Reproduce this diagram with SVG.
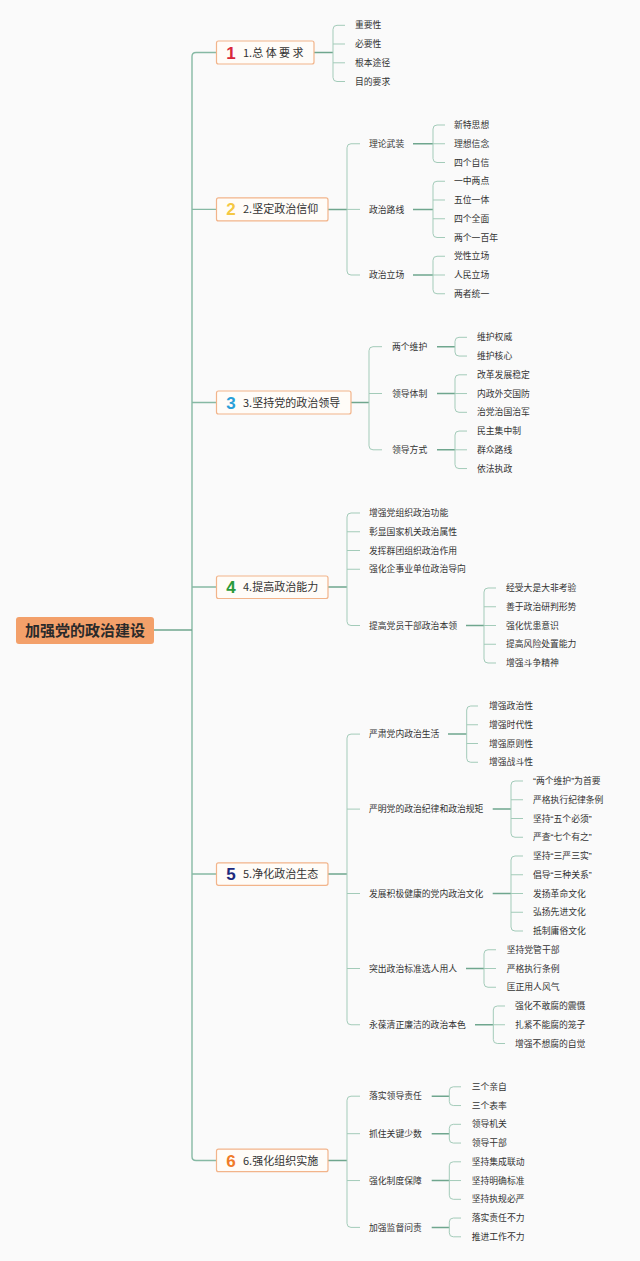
<svg xmlns="http://www.w3.org/2000/svg" width="640" height="1261" viewBox="0 0 640 1261">
<style>
text{font-family:"Noto Sans CJK SC","Noto Sans",sans-serif;fill:#333}
.t{font-size:8.8px}
.b{font-size:11px}
.n{font-size:17px;font-weight:bold;font-family:"Liberation Sans","Noto Sans",sans-serif;text-anchor:middle}
.r{font-size:15px;font-weight:bold;fill:#2a2a2a}
.q{font-family:"Liberation Sans",sans-serif}
.box{fill:#fffcf8;stroke:#f2b48a;stroke-width:1.2}
.c{fill:none;stroke:#6fa68e;stroke-width:1.5}
.v{fill:none;stroke:#a3cbb9;stroke-width:1}
.k{fill:none;stroke:#86b9a4;stroke-width:1.4}
</style>
<rect width="640" height="1261" fill="#fafafa"/>
<g id="connectors">
<path class="k" d="M216,52.5 H196 Q192,52.5 192,56.5 V1156.5 Q192,1160.5 196,1160.5 H216 M192,209.4 H216 M192,402.5 H216 M192,587 H216 M192,874 H216"/>
<path class="c" d="M154,630 H192"/>
<path class="c" d="M314,52.5 H333 M328,209.4 H347 M351,402.5 H369 M328,587 H347 M328,874 H347 M328,1160.5 H347"/>
<path class="v" d="M345,25.3 H337 Q333,25.3 333,29.3 V77.5 Q333,81.5 337,81.5 H345 M333,44 H345 M333,62.8 H345"/>
<path class="v" d="M360,143.75 H351 Q347,143.75 347,147.75 V271 Q347,275 351,275 H360 M347,209.4 H360"/>
<path class="c" d="M413,143.75 H433 M413,209.4 H433 M413,275 H433"/>
<path class="v" d="M445,125 H437 Q433,125 433,129 V158.5 Q433,162.5 437,162.5 H445 M433,143.75 H445"/>
<path class="v" d="M445,181.25 H437 Q433,181.25 433,185.25 V233.5 Q433,237.5 437,237.5 H445 M433,200 H445 M433,218.75 H445"/>
<path class="v" d="M445,256.25 H437 Q433,256.25 433,260.25 V289.75 Q433,293.75 437,293.75 H445 M433,275 H445"/>
<path class="v" d="M382,346.7 H373 Q369,346.7 369,350.7 V445.8 Q369,449.8 373,449.8 H382 M369,393.5 H382"/>
<path class="c" d="M437,346.7 H455 M437,393.5 H455 M437,449.8 H455"/>
<path class="v" d="M467,337.3 H459 Q455,337.3 455,341.3 V352.05 Q455,356.05 459,356.05 H467"/>
<path class="v" d="M467,374.8 H459 Q455,374.8 455,378.8 V408.3 Q455,412.3 459,412.3 H467 M455,393.55 H467"/>
<path class="v" d="M467,431.05 H459 Q455,431.05 455,435.05 V464.55 Q455,468.55 459,468.55 H467 M455,449.8 H467"/>
<path class="v" d="M360,513 H351 Q347,513 347,517 V621.5 Q347,625.5 351,625.5 H360 M347,531.75 H360 M347,550.5 H360 M347,569.25 H360"/>
<path class="c" d="M466,625.5 H484"/>
<path class="v" d="M496,588 H488 Q484,588 484,592 V659 Q484,663 488,663 H496 M484,606.75 H496 M484,625.5 H496 M484,644.25 H496"/>
<path class="v" d="M360,734.1 H351 Q347,734.1 347,738.1 V1020.75 Q347,1024.75 351,1024.75 H360 M347,809.1 H360 M347,893.5 H360 M347,968.5 H360"/>
<path class="c" d="M448,734.1 H466.7 M492.7,809.1 H511 M492.7,893.5 H511 M466,968.5 H484 M475,1024.75 H493.3"/>
<path class="v" d="M478,706 H470.7 Q466.7,706 466.7,710 V758.25 Q466.7,762.25 470.7,762.25 H478 M466.7,724.75 H478 M466.7,743.5 H478"/>
<path class="v" d="M523,781 H515 Q511,781 511,785 V833.25 Q511,837.25 515,837.25 H523 M511,799.75 H523 M511,818.5 H523"/>
<path class="v" d="M523,856 H515 Q511,856 511,860 V927 Q511,931 515,931 H523 M511,874.75 H523 M511,893.5 H523 M511,912.25 H523"/>
<path class="v" d="M496,949.75 H488 Q484,949.75 484,953.75 V983.25 Q484,987.25 488,987.25 H496 M484,968.5 H496"/>
<path class="v" d="M505,1006 H497.3 Q493.3,1006 493.3,1010 V1039.5 Q493.3,1043.5 497.3,1043.5 H505 M493.3,1024.75 H505"/>
<path class="v" d="M360,1096.2 H351 Q347,1096.2 347,1100.2 V1223.4 Q347,1227.4 351,1227.4 H360 M347,1133.7 H360 M347,1180.55 H360"/>
<path class="c" d="M431.7,1096.2 H449.3 M431.7,1133.7 H449.3 M431.7,1180.55 H449.3 M431.7,1227.4 H449.3"/>
<path class="v" d="M461,1086.8 H453.3 Q449.3,1086.8 449.3,1090.8 V1101.55 Q449.3,1105.55 453.3,1105.55 H461"/>
<path class="v" d="M461,1124.3 H453.3 Q449.3,1124.3 449.3,1128.3 V1139.05 Q449.3,1143.05 453.3,1143.05 H461"/>
<path class="v" d="M461,1161.8 H453.3 Q449.3,1161.8 449.3,1165.8 V1195.3 Q449.3,1199.3 453.3,1199.3 H461 M449.3,1180.55 H461"/>
<path class="v" d="M461,1218.05 H453.3 Q449.3,1218.05 449.3,1222.05 V1232.8 Q449.3,1236.8 453.3,1236.8 H461"/>
</g>
<g id="root"><rect x="16" y="617" width="138" height="27" rx="3" fill="#f3a06a"/><text class="r" x="85" y="635.5" text-anchor="middle">加强党的政治建设</text></g>
<g id="n1"><rect class="box" x="216.5" y="41" width="97.5" height="23" rx="2"/><text class="n" x="231" y="58.5" style="fill:#d8283a">1</text><text class="b" x="243" y="56.5">1.总 体 要 求</text></g>
<g id="n1-1"><text class="t" x="355" y="28.4">重要性</text></g>
<g id="n1-2"><text class="t" x="355" y="47.1">必要性</text></g>
<g id="n1-3"><text class="t" x="355" y="65.9">根本途径</text></g>
<g id="n1-4"><text class="t" x="355" y="84.6">目的要求</text></g>
<g id="n2"><rect class="box" x="216.5" y="197.9" width="111.5" height="23" rx="2"/><text class="n" x="231" y="215.4" style="fill:#f5c842">2</text><text class="b" x="243" y="213.4">2.坚定政治信仰</text></g>
<g id="n2-1"><text class="t" x="369" y="146.85">理论武装</text></g>
<g id="n2-2"><text class="t" x="369" y="212.5">政治路线</text></g>
<g id="n2-3"><text class="t" x="369" y="278.1">政治立场</text></g>
<g id="n2-1-1"><text class="t" x="454" y="128.1">新特思想</text></g>
<g id="n2-1-2"><text class="t" x="454" y="146.85">理想信念</text></g>
<g id="n2-1-3"><text class="t" x="454" y="165.6">四个自信</text></g>
<g id="n2-2-1"><text class="t" x="454" y="184.35">一中两点</text></g>
<g id="n2-2-2"><text class="t" x="454" y="203.1">五位一体</text></g>
<g id="n2-2-3"><text class="t" x="454" y="221.85">四个全面</text></g>
<g id="n2-2-4"><text class="t" x="454" y="240.6">两个一百年</text></g>
<g id="n2-3-1"><text class="t" x="454" y="259.35">党性立场</text></g>
<g id="n2-3-2"><text class="t" x="454" y="278.1">人民立场</text></g>
<g id="n2-3-3"><text class="t" x="454" y="296.85">两者统一</text></g>
<g id="n3"><rect class="box" x="216.5" y="391" width="134.5" height="23" rx="2"/><text class="n" x="231" y="408.5" style="fill:#2a9fd8">3</text><text class="b" x="243" y="406.5">3.坚持党的政治领导</text></g>
<g id="n3-1"><text class="t" x="392" y="349.8">两个维护</text></g>
<g id="n3-2"><text class="t" x="392" y="396.6">领导体制</text></g>
<g id="n3-3"><text class="t" x="392" y="452.9">领导方式</text></g>
<g id="n3-1-1"><text class="t" x="477" y="340.4">维护权威</text></g>
<g id="n3-1-2"><text class="t" x="477" y="359.15">维护核心</text></g>
<g id="n3-2-1"><text class="t" x="477" y="377.9">改革发展稳定</text></g>
<g id="n3-2-2"><text class="t" x="477" y="396.65">内政外交国防</text></g>
<g id="n3-2-3"><text class="t" x="477" y="415.4">治党治国治军</text></g>
<g id="n3-3-1"><text class="t" x="477" y="434.15">民主集中制</text></g>
<g id="n3-3-2"><text class="t" x="477" y="452.9">群众路线</text></g>
<g id="n3-3-3"><text class="t" x="477" y="471.65">依法执政</text></g>
<g id="n4"><rect class="box" x="216.5" y="576" width="111.5" height="22.5" rx="2"/><text class="n" x="231" y="593.3" style="fill:#2a9a3a">4</text><text class="b" x="243" y="591.3">4.提高政治能力</text></g>
<g id="n4-1"><text class="t" x="369" y="516.1">增强党组织政治功能</text></g>
<g id="n4-2"><text class="t" x="369" y="534.85">彰显国家机关政治属性</text></g>
<g id="n4-3"><text class="t" x="369" y="553.6">发挥群团组织政治作用</text></g>
<g id="n4-4"><text class="t" x="369" y="572.35">强化企事业单位政治导向</text></g>
<g id="n4-5"><text class="t" x="369" y="628.6">提高党员干部政治本领</text></g>
<g id="n4-5-1"><text class="t" x="506" y="591.1">经受大是大非考验</text></g>
<g id="n4-5-2"><text class="t" x="506" y="609.85">善于政治研判形势</text></g>
<g id="n4-5-3"><text class="t" x="506" y="628.6">强化忧患意识</text></g>
<g id="n4-5-4"><text class="t" x="506" y="647.35">提高风险处置能力</text></g>
<g id="n4-5-5"><text class="t" x="506" y="666.1">增强斗争精神</text></g>
<g id="n5"><rect class="box" x="216.5" y="862.8" width="111.5" height="22.5" rx="2"/><text class="n" x="231" y="880.2" style="fill:#1e2a7c">5</text><text class="b" x="243" y="878.2">5.净化政治生态</text></g>
<g id="n5-1"><text class="t" x="369" y="737.2">严肃党内政治生活</text></g>
<g id="n5-2"><text class="t" x="369" y="812.2">严明党的政治纪律和政治规矩</text></g>
<g id="n5-3"><text class="t" x="369" y="896.6">发展积极健康的党内政治文化</text></g>
<g id="n5-4"><text class="t" x="369" y="971.6">突出政治标准选人用人</text></g>
<g id="n5-5"><text class="t" x="369" y="1027.85">永葆清正廉洁的政治本色</text></g>
<g id="n5-1-1"><text class="t" x="489" y="709.1">增强政治性</text></g>
<g id="n5-1-2"><text class="t" x="489" y="727.85">增强时代性</text></g>
<g id="n5-1-3"><text class="t" x="489" y="746.6">增强原则性</text></g>
<g id="n5-1-4"><text class="t" x="489" y="765.35">增强战斗性</text></g>
<g id="n5-2-1"><text class="t" x="533" y="784.1"><tspan class="q">“</tspan>两个维护<tspan class="q">”</tspan>为首要</text></g>
<g id="n5-2-2"><text class="t" x="533" y="802.85">严格执行纪律条例</text></g>
<g id="n5-2-3"><text class="t" x="533" y="821.6">坚持<tspan class="q">“</tspan>五个必须<tspan class="q">”</tspan></text></g>
<g id="n5-2-4"><text class="t" x="533" y="840.35">严查<tspan class="q">“</tspan>七个有之<tspan class="q">”</tspan></text></g>
<g id="n5-3-1"><text class="t" x="533" y="859.1">坚持<tspan class="q">“</tspan>三严三实<tspan class="q">”</tspan></text></g>
<g id="n5-3-2"><text class="t" x="533" y="877.85">倡导<tspan class="q">“</tspan>三种关系<tspan class="q">”</tspan></text></g>
<g id="n5-3-3"><text class="t" x="533" y="896.6">发扬革命文化</text></g>
<g id="n5-3-4"><text class="t" x="533" y="915.35">弘扬先进文化</text></g>
<g id="n5-3-5"><text class="t" x="533" y="934.1">抵制庸俗文化</text></g>
<g id="n5-4-1"><text class="t" x="506.7" y="952.85">坚持党管干部</text></g>
<g id="n5-4-2"><text class="t" x="506.7" y="971.6">严格执行条例</text></g>
<g id="n5-4-3"><text class="t" x="506.7" y="990.35">匡正用人风气</text></g>
<g id="n5-5-1"><text class="t" x="515" y="1009.1">强化不敢腐的震慑</text></g>
<g id="n5-5-2"><text class="t" x="515" y="1027.85">扎紧不能腐的笼子</text></g>
<g id="n5-5-3"><text class="t" x="515" y="1046.6">增强不想腐的自觉</text></g>
<g id="n6"><rect class="box" x="216.5" y="1149.2" width="111.5" height="22.5" rx="2"/><text class="n" x="231" y="1166.6" style="fill:#f07a28">6</text><text class="b" x="243" y="1164.6">6.强化组织实施</text></g>
<g id="n6-1"><text class="t" x="369" y="1099.3">落实领导责任</text></g>
<g id="n6-2"><text class="t" x="369" y="1136.8">抓住关键少数</text></g>
<g id="n6-3"><text class="t" x="369" y="1183.65">强化制度保障</text></g>
<g id="n6-4"><text class="t" x="369" y="1230.5">加强监督问责</text></g>
<g id="n6-1-1"><text class="t" x="471.7" y="1089.9">三个亲自</text></g>
<g id="n6-1-2"><text class="t" x="471.7" y="1108.65">三个表率</text></g>
<g id="n6-2-1"><text class="t" x="471.7" y="1127.4">领导机关</text></g>
<g id="n6-2-2"><text class="t" x="471.7" y="1146.15">领导干部</text></g>
<g id="n6-3-1"><text class="t" x="471.7" y="1164.9">坚持集成联动</text></g>
<g id="n6-3-2"><text class="t" x="471.7" y="1183.65">坚持明确标准</text></g>
<g id="n6-3-3"><text class="t" x="471.7" y="1202.4">坚持执规必严</text></g>
<g id="n6-4-1"><text class="t" x="471.7" y="1221.15">落实责任不力</text></g>
<g id="n6-4-2"><text class="t" x="471.7" y="1239.9">推进工作不力</text></g>
</svg>
